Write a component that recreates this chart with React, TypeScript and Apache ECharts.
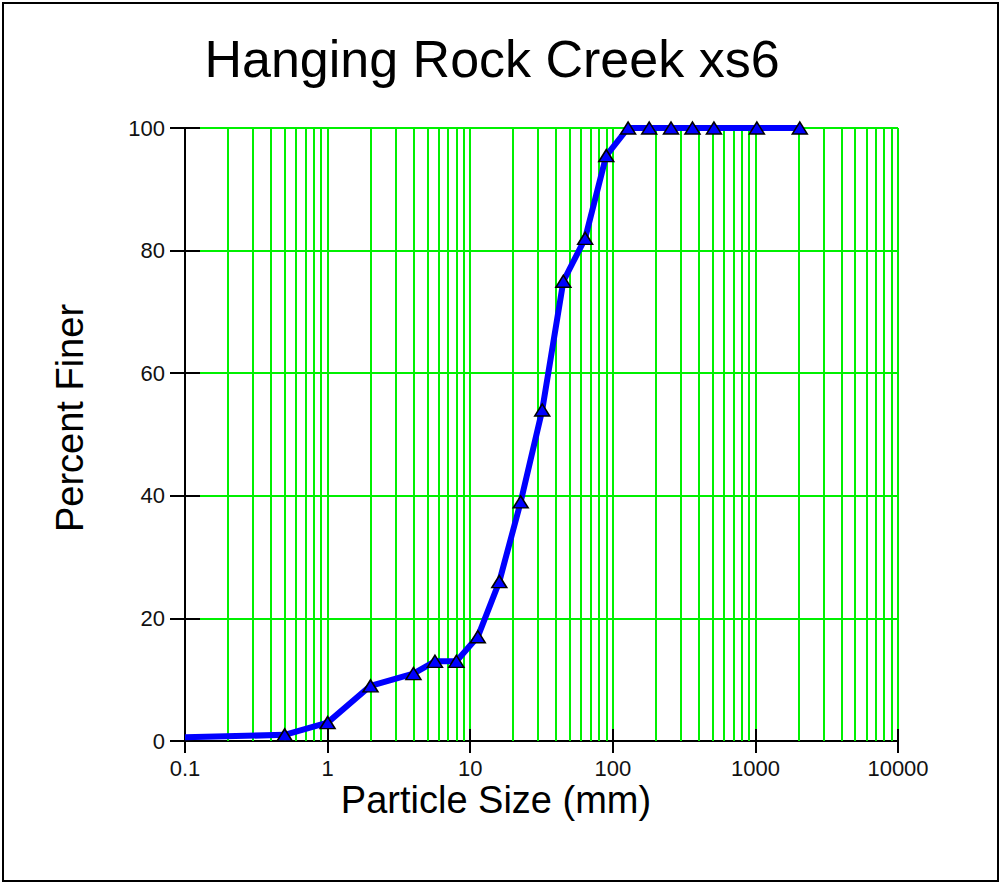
import React, { useEffect, useRef } from "react";
import * as echarts from "echarts";

const sizes = [0.1, 0.5, 1, 2, 4, 5.66, 8, 11.3, 16, 22.6, 32, 45, 64, 90, 128, 180, 256, 362, 512, 1024, 2048];
const finer = [0.6, 1, 3, 9, 11, 13, 13, 17, 26, 39, 54, 75, 82, 95.5, 100, 100, 100, 100, 100, 100, 100];
const yTicks = [0, 20, 40, 60, 80, 100];
const decades = [0.1, 1, 10, 100, 1000];
const minorFactors = [2, 3, 4, 5, 6, 7, 8, 9];

const GREEN = "#00f000";
const FONT = "'Liberation Sans', Arial, sans-serif";

export default function App() {
  const ref = useRef<HTMLDivElement>(null);
  useEffect(() => {
    if (!ref.current) return;
    const chart = echarts.init(ref.current, undefined, { renderer: "svg" });
    const minorLines: number[] = [];
    decades.forEach((d) => minorFactors.forEach((f) => minorLines.push(Number((d * f).toPrecision(6)))));
    const data = sizes.map((s, i) =>
      i === 0 ? { value: [s, finer[i]], symbol: "none" } : { value: [s, finer[i]] }
    );
    const fmt = (v: number) => String(Number(v.toPrecision(6)));
    chart.setOption({
      animation: false,
      backgroundColor: "#fff",
      grid: { left: 185, right: 102, top: 128, bottom: 143, containLabel: false },
      xAxis: [
        {
          type: "log",
          logBase: 10,
          min: 0.1,
          max: 10000,
          axisLine: { show: true, onZero: false, lineStyle: { color: "#000", width: 2 } },
          axisTick: { show: true, inside: false, length: 12, lineStyle: { color: "#000", width: 2 } },
          axisLabel: { show: true, margin: 16, fontSize: 22, color: "#111", fontFamily: FONT, formatter: fmt },
          splitLine: { show: true, lineStyle: { color: GREEN, width: 2 } },
          minorTick: { show: false },
        },
        {
          type: "log",
          logBase: 10,
          min: 0.1,
          max: 10000,
          position: "bottom",
          axisLine: { show: false },
          axisTick: { show: true, inside: true, length: 12, lineStyle: { color: "#000", width: 2 } },
          axisLabel: { show: false },
          splitLine: { show: false },
        },
      ],
      yAxis: [
        {
          type: "value",
          min: yTicks[0],
          max: yTicks[yTicks.length - 1],
          interval: 20,
          axisLine: { show: true, onZero: false, lineStyle: { color: "#000", width: 2 } },
          axisTick: { show: true, inside: false, length: 15, lineStyle: { color: "#000", width: 2 } },
          axisLabel: { show: true, margin: 20, fontSize: 22, color: "#111", fontFamily: FONT },
          splitLine: { show: true, lineStyle: { color: GREEN, width: 2 } },
        },
        {
          type: "value",
          min: yTicks[0],
          max: yTicks[yTicks.length - 1],
          interval: 20,
          position: "left",
          axisLine: { show: false },
          axisTick: { show: true, inside: true, length: 15, lineStyle: { color: "#000", width: 2 } },
          axisLabel: { show: false },
          splitLine: { show: false },
        },
      ],
      series: [
        {
          type: "line",
          data: [],
          z: 1,
          silent: true,
          markLine: {
            silent: true,
            animation: false,
            symbol: ["none", "none"],
            label: { show: false },
            lineStyle: { color: GREEN, width: 2, type: "solid" },
            data: minorLines.map((v) => ({ xAxis: v })),
          },
        },
        {
          type: "line",
          z: 5,
          data,
          symbol: "triangle",
          symbolSize: [15, 12],
          showAllSymbol: true,
          lineStyle: { color: "#0000ff", width: 6 },
          itemStyle: { color: "#0000ff", borderColor: "#000", borderWidth: 1.5 },
        },
      ],
      graphic: [
        {
          type: "rect",
          shape: { x: 3, y: 3, width: 995, height: 878 },
          style: { fill: "none", stroke: "#000", lineWidth: 2 },
          silent: true,
        },
        {
          type: "text",
          x: 492,
          y: 59,
          style: {
            text: "Hanging Rock Creek xs6",
            fontSize: 52,
            fontFamily: FONT,
            fill: "#000",
            align: "center",
            verticalAlign: "middle",
          },
        },
        {
          type: "text",
          x: 496,
          y: 800,
          style: {
            text: "Particle Size (mm)",
            fontSize: 38,
            fontFamily: FONT,
            fill: "#000",
            align: "center",
            verticalAlign: "middle",
          },
        },
        {
          type: "text",
          x: 70,
          y: 418,
          rotation: Math.PI / 2,
          style: {
            text: "Percent Finer",
            fontSize: 38,
            fontFamily: FONT,
            fill: "#000",
            align: "center",
            verticalAlign: "middle",
          },
        },
      ],
    });
    return () => chart.dispose();
  }, []);
  return (
    <div
      ref={ref}
      style={{ position: "absolute", left: 0, top: 0, width: 1000, height: 884, background: "#fff" }}
    />
  );
}
